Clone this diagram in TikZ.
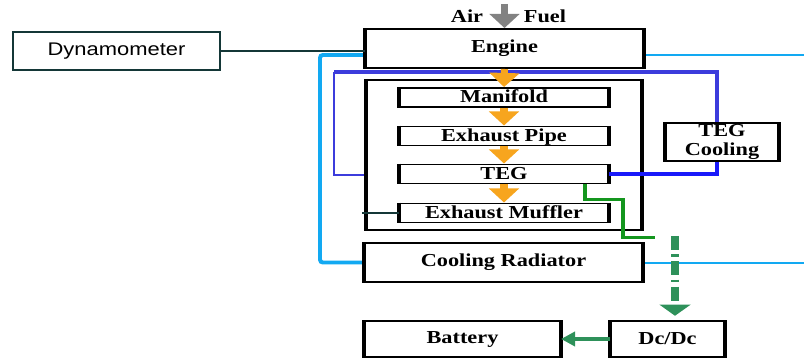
\documentclass[tikz,border=0pt]{standalone}
\usepackage{fontspec}
\setmainfont{Liberation Serif}[FakeStretch=1.22]
\newfontfamily\dynofont{Liberation Sans}[FakeStretch=1.2]
\usetikzlibrary{arrows.meta,positioning,calc}

\definecolor{coolant}{RGB}{18,169,242}
\definecolor{loopblue}{RGB}{60,60,220}
\definecolor{tegblue}{RGB}{25,25,250}
\definecolor{shaftcol}{RGB}{20,55,55}
\definecolor{exhorange}{RGB}{247,165,30}
\definecolor{wiregreen}{RGB}{20,150,30}
\definecolor{powergreen}{RGB}{46,145,90}
\definecolor{intakegray}{RGB}{130,130,130}

\begin{document}
\begin{tikzpicture}[
            x=0.025cm, y=-0.025cm,
            box/.style={draw=black, line width=1.4pt, fill=white, inner sep=0pt,
                        font=\fontsize{13}{14}\selectfont\bfseries},
            part/.style={box, minimum width=5.2cm, minimum height=0.475cm,
                         text height=8.8pt, text depth=1.5pt},
            lab/.style={draw=none, fill=none, font=\fontsize{13}{14}\selectfont\bfseries},
            flow/.style={draw=exhorange, line width=5pt, -{Triangle[width=21pt,length=10pt]}},
            shaft/.style={draw=shaftcol, line width=1.4pt},
            water/.style={draw=coolant, line width=2.8pt, rounded corners=2pt},
            waterthin/.style={draw=coolant, line width=1.5pt},
            tegloop/.style={draw=loopblue, line width=2.6pt},
            tegpipe/.style={draw=tegblue, line width=3.2pt},
            wire/.style={draw=wiregreen, line width=2.2pt},
            power/.style={draw=powergreen, line width=5pt, dash pattern=on 10pt off 3pt on 2pt off 3pt,
                          -{Triangle[width=22pt,length=8pt]}, shorten >=3pt},
            charge/.style={draw=powergreen, line width=3pt, -{Triangle[width=10pt,length=10pt]}}
        ]
\useasboundingbox (0,0) rectangle (804,359);

% --- free ends ---
            \coordinate (cl) at (320,55);
            \coordinate (outa) at (804,55);
            \coordinate (outb) at (804,263);
            \coordinate (bl) at (334,72);
            \coordinate (bt) at (717,72);
            \coordinate (mf) at (362,213);
            \coordinate (airin) at (504.5,4);
            \coordinate (dcin) at (675,236);

% --- coolant and TEG loops ---
            \draw[water] (cl -| 366,0) -- (cl) |- (366,262.5);
            \draw[waterthin] (outa -| 643,0) -- (outa);
            \draw[waterthin] (outb -| 642,0) -- (outb);
            \draw[tegloop] (bl) -- (bt) -- (bt |- 0,123);
            \draw[tegloop, line width=1.8pt] (bl) |- (400,175);

% --- blocks ---
            \node[box, font=\dynofont\fontsize{13}{14}\selectfont, draw=shaftcol,
                  minimum width=5.175cm, minimum height=0.95cm] (dyno) at (116.5,51) {Dynamometer};
            \node[box, minimum width=6.925cm, minimum height=0.975cm] (engine) at (504.5,48.5) {Engine};
            \node[box, minimum width=6.85cm, minimum height=3.75cm] (exh) at (504,155) {};

            \node[part] (manifold) at (504,97.5) {Manifold};
            \node[part] (pipe) at (504,136) {Exhaust Pipe};
            \node[part] (teg) at (504,174) {TEG};
            \node[part] (muffler) at (504,213) {Exhaust Muffler};

            \node[box, align=center, minimum width=2.8cm, minimum height=0.95cm] (tegc) at (722,142) {TEG\\Cooling};
            \node[box, minimum width=6.925cm, minimum height=0.975cm] (radiator) at (503.5,262.5) {Cooling Radiator};
            \node[box, minimum width=4.875cm, minimum height=0.9cm] (battery) at (462.5,339) {Battery};
            \node[box, minimum width=2.825cm, minimum height=0.9cm] (dcdc) at (667.5,339) {Dc/Dc};

% --- heavy sides of the blocks ---
            \foreach \b in {engine,exh,manifold,pipe,teg,muffler,tegc,radiator,battery,dcdc}
                \draw[line width=3pt] (\b.north west) -- (\b.south west)
                                      (\b.north east) -- (\b.south east);

% --- intake ---
            \draw[draw=intakegray, line width=5.5pt, -{Triangle[width=21pt,length=10pt]}] (airin) -- (engine.north);
            \node[lab] (air) at (467,16) {Air};
            \node[lab] (fuel) at (545,16) {Fuel};

% --- exhaust flow ---
            \draw[flow] (engine.south) -- (manifold.north);
            \draw[flow] (manifold.south) -- (pipe.north);
            \draw[flow] (pipe.south) -- (teg.north);
            \draw[flow] (teg.south) -- (muffler.north);

% --- shafts and pipes ---
            \draw[shaft] (dyno.east) -- (dyno.east -| engine.west);
            \draw[shaft] (mf) -- (muffler.west);
            \draw[tegpipe] (teg.east) -| (bt |- tegc.south);

% --- electric path ---
            \draw[wire] (teg.south) ++(81,0) |- ++(38,15) |- ++(32,38);
            \draw[power] (dcin) -- (dcin |- dcdc.north);
            \draw[charge] (dcdc.west) -- (battery.east);

        \end{tikzpicture}
\end{document}
